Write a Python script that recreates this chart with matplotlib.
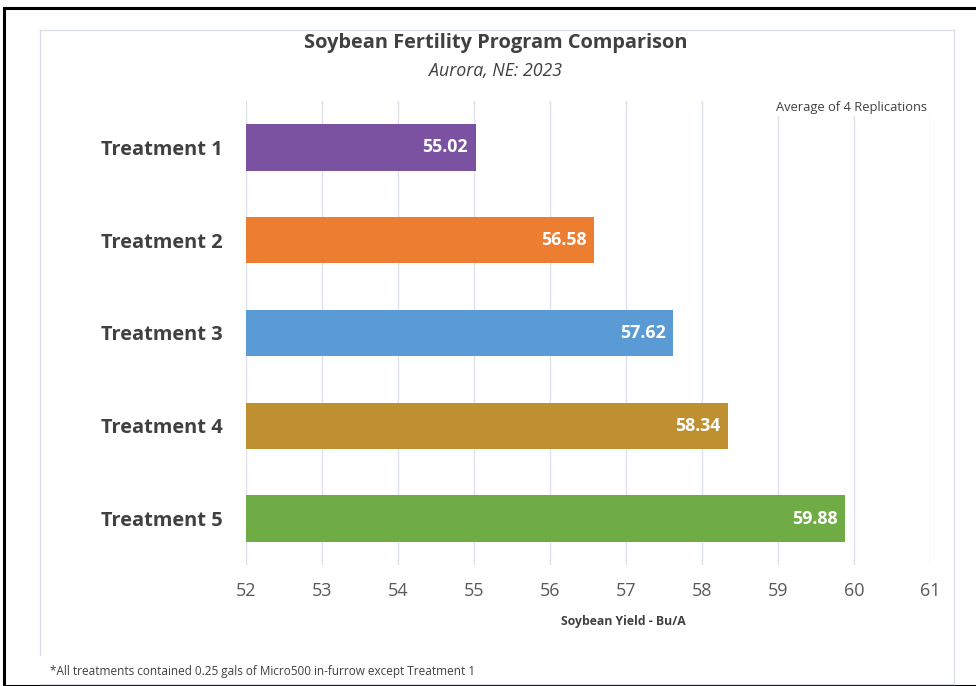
import matplotlib
matplotlib.use("Agg")
import matplotlib.pyplot as plt
from matplotlib.patches import Rectangle
from matplotlib.lines import Line2D

categories = ["Treatment 1", "Treatment 2", "Treatment 3", "Treatment 4", "Treatment 5"]
values = [55.02, 56.58, 57.62, 58.34, 59.88]
colors = ["#7B52A1", "#ED7D31", "#5B9BD5", "#BF9030", "#6FAC46"]
xticks = list(range(52, 62))

plt.rcParams['font.family'] = ['Open Sans', 'DejaVu Sans']

fig = plt.figure(figsize=(9.76, 6.86), dpi=100)
W, H = 976, 686
def fx(px): return px / W
def fy(py): return 1 - py / H

# outer black frame
fig.patches.append(Rectangle((fx(4), fy(686)), fx(990), fy(8) - fy(686), transform=fig.transFigure,
                             fill=False, edgecolor="black", linewidth=2.2))
# inner light chart frame
frame_col = "#D9DEE6"
for (x0, y0, x1, y1) in [(40, 30, 954, 30), (40, 30, 40, 655), (954, 30, 954, 684), (40, 684, 954, 684)]:
    fig.lines.append(Line2D([fx(x0), fx(x1)], [fy(y0), fy(y1)], transform=fig.transFigure,
                            color=frame_col, linewidth=0.9))

ax = fig.add_axes([fx(246), fy(565), fx(930) - fx(246), fy(101) - fy(565)])
y = list(range(len(categories)))
bars = ax.barh(y, [v - 52 for v in values], left=52, height=0.5, color=colors, zorder=3)
ax.set_xlim(52, 61)
ax.set_ylim(len(categories) - 0.5, -0.5)
ax.set_yticks(y)
ax.set_yticklabels(categories, fontsize=14.4, fontweight='bold', color="#404040")
ax.set_xticks(xticks)
ax.set_xticklabels([str(t) for t in xticks], fontsize=13, color="#595959")
ax.tick_params(axis='both', length=0)
ax.tick_params(axis='x', pad=12)
ax.tick_params(axis='y', pad=16.5)
for s in ax.spines.values():
    s.set_visible(False)
ax.grid(axis='x', color="#DCE1EA", linewidth=1, zorder=0)

for b, v in zip(bars, values):
    ax.text(v - 0.1, b.get_y() + b.get_height() / 2, f"{v:.2f}", ha='right', va='center',
            color='white', fontsize=12.8, fontweight='bold', zorder=4)

ax.set_xlabel("Soybean Yield - Bu/A", fontsize=8.8, fontweight='bold', color="#404040")
ax.xaxis.set_label_coords((623 - 246) / (930 - 246), -(622 - 565) / (565 - 101))
ax.xaxis.label.set_va('center')

fig.text(fx(496), fy(43), "Soybean Fertility Program Comparison", ha='center', va='center',
         fontsize=14.4, fontweight='bold', color="#404040")
fig.text(fx(496), fy(71), "Aurora, NE: 2023", ha='center', va='center',
         fontsize=12.8, style='italic', color="#404040")
fig.text(fx(852), fy(107), "Average of 4 Replications", ha='center', va='center',
         fontsize=9.3, color="#404040",
         bbox=dict(facecolor='white', edgecolor='none', pad=2), zorder=10)
fig.text(fx(50), fy(671), "*All treatments contained 0.25 gals of Micro500 in-furrow except Treatment 1",
         ha='left', va='center', fontsize=8.5, color="#404040")

fig.savefig("out.png", dpi=100, facecolor='white')
